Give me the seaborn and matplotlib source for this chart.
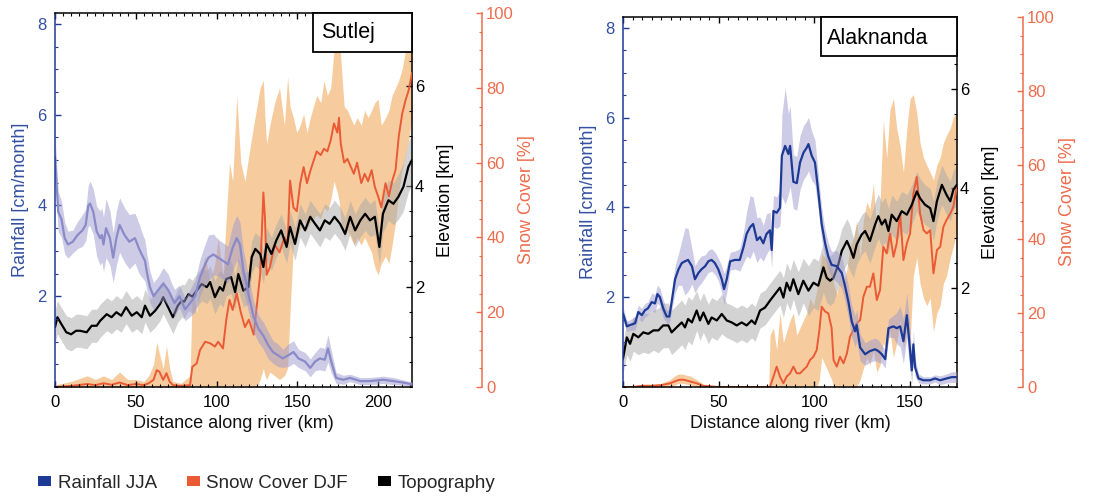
import numpy as np
import matplotlib
matplotlib.use("Agg")
import matplotlib.pyplot as plt
import seaborn as sns
from matplotlib.patches import Patch, Rectangle
from matplotlib.ticker import MultipleLocator

# ---------------- Sutlej (left panel) ----------------
sut_rain_km = [0, 2, 4, 6, 8, 11, 14, 17, 19, 20.6, 21.7, 23.7, 25.8, 27.9, 29, 30, 31.6, 34, 36, 38,
               40, 43, 46, 49.5, 52, 53.7, 55.7, 57, 58.8, 61, 64, 67, 70, 72, 74, 77, 80.5, 83.6, 86.7, 89.8,
               92.9, 95, 98, 101, 104, 107, 110, 112.5, 114.5, 116.6, 119.7, 122.8, 126, 129, 132, 135, 138, 141, 144.5, 147.6,
               150.7, 154.8, 158, 161, 164, 167, 169, 171, 174, 178.5, 182.7, 189, 195, 203, 209.5, 215, 221]
sut_rain = [5.07, 3.86, 3.7, 3.28, 3.14, 3.2, 3.35, 3.45, 3.57, 4.0, 4.04, 3.86, 3.43, 3.28, 3.35, 3.14, 3.5, 3.28, 2.85, 3.28,
            3.57, 3.35, 3.2, 3.28, 3.05, 2.92, 2.78, 2.5, 2.2, 2.0, 2.14, 2.28, 2.14, 2.0, 1.85, 2.0, 1.71, 1.85, 2.0, 2.42,
            2.7, 2.85, 2.92, 2.85, 2.78, 2.7, 3.07, 3.28, 3.14, 2.57, 2.06, 1.56, 1.28, 1.13, 0.92, 0.77, 0.70, 0.63, 0.70, 0.77,
            0.63, 0.56, 0.42, 0.56, 0.63, 0.6, 0.85, 0.56, 0.2, 0.16, 0.2, 0.13, 0.13, 0.16, 0.13, 0.1, 0.06]
sut_rain_spread = [0.5, 0.45, 0.4, 0.35, 0.3, 0.25, 0.3, 0.35, 0.35, 0.45, 0.5, 0.5, 0.55, 0.6, 0.6, 0.6, 0.65, 0.6, 0.55, 0.6,
                   0.6, 0.6, 0.6, 0.55, 0.55, 0.5, 0.45, 0.4, 0.35, 0.3, 0.3, 0.35, 0.35, 0.3, 0.3, 0.25, 0.25, 0.3, 0.35, 0.4,
                   0.45, 0.5, 0.45, 0.4, 0.4, 0.4, 0.5, 0.5, 0.5, 0.45, 0.4, 0.35, 0.3, 0.3, 0.3, 0.25, 0.25, 0.2, 0.25, 0.25,
                   0.2, 0.2, 0.2, 0.2, 0.25, 0.25, 0.3, 0.25, 0.12, 0.1, 0.08, 0.08, 0.08, 0.08, 0.08, 0.06, 0.05]

sut_topo_km = [0, 1.5, 4, 7, 10, 13, 15.5, 19.6, 22.7, 25.8, 28, 32, 35, 38, 41, 44, 47.5, 50.6, 53.7, 55.7,
               58.8, 62, 65, 67, 70, 73, 76, 78.4, 80, 82.6, 85, 87.7, 90.8, 94, 96, 99, 102, 104, 106, 109,
               111.5, 113.5, 116.6, 119.7, 121.8, 124, 127, 129, 131, 134, 137, 140, 143.4, 145.5, 148.6, 151.7, 154.8, 158, 161, 164,
               167, 170, 173, 176.5, 179.6, 182.7, 185.8, 189, 192, 195, 198, 200.8, 203, 206.4, 209.5, 212.6, 215.7, 218.8, 221]
sut_topo = [1.19, 1.39, 1.25, 1.09, 1.05, 1.12, 1.12, 1.09, 1.22, 1.22, 1.32, 1.45, 1.39, 1.49, 1.42, 1.59, 1.42, 1.49, 1.39, 1.62,
            1.42, 1.52, 1.65, 1.79, 1.59, 1.39, 1.62, 1.72, 1.70, 1.85, 1.80, 1.92, 2.05, 1.99, 2.09, 1.79, 1.99, 1.92, 2.15, 2.19,
            1.89, 2.25, 1.92, 1.99, 2.59, 2.75, 2.65, 2.39, 2.85, 2.65, 2.92, 3.12, 2.79, 3.19, 2.85, 3.32, 3.12, 3.39, 3.25, 3.12,
            3.32, 3.25, 3.39, 3.25, 3.05, 3.39, 3.12, 3.32, 3.45, 3.32, 3.39, 2.79, 3.45, 3.72, 3.65, 3.79, 3.99, 4.39, 4.52]
sut_topo_spread = [0.33] * 70 + [0.35, 0.35, 0.38, 0.4, 0.42, 0.45, 0.48, 0.5, 0.5]

sut_snow_km = [0, 10, 20, 25, 30, 35, 40, 45, 50, 55, 58, 61, 63, 64.6, 67, 69, 71, 73, 78, 83.6,
               85, 87.7, 89.8, 93, 96, 99, 101, 104, 106, 108, 110, 112.5, 115, 117.6, 120, 123, 125, 127, 129, 130,
               131, 133, 136, 139, 142, 144, 145.5, 147.6, 149.7, 151.8, 153.9, 156, 158, 162, 164.5, 166.5, 168.6, 170.7, 172.7, 174.8,
               175.8, 176.9, 179, 181, 183, 185, 187, 189.6, 191.7, 193.8, 196, 198, 200, 202, 204.6, 206.7, 208.7, 210.8, 212.8, 214.9,
               217, 219, 221]
sut_snow = [0, 0.3, 0.8, 0.5, 1.0, 0.6, 1.2, 0.5, 0.8, 0.5, 1.0, 1.9, 4.5, 4.1, 1.9, 3.7, 1.4, 0.5, 0.3, 0.5,
            5.4, 6.3, 9.9, 12.1, 11.7, 10.8, 12.1, 10.3, 17.9, 23.3, 20.6, 25.0, 20, 16, 18, 14, 22, 30, 52, 45,
            30, 32, 38, 36, 40, 38.5, 55.2, 48, 47, 54.5, 58.8, 54.5, 57.7, 63, 62, 63.7, 63, 66, 70.5, 68,
            72, 65, 60, 61, 59, 57, 60, 54.5, 57, 55, 58, 53.5, 51, 48, 54.5, 51, 55, 58, 67, 73,
            76.7, 79.4, 84]
sut_snow_lo = [0] * 37 + [2, 5, 3,
               2, 4, 3, 2, 3, 5, 20, 38, 40, 42, 45, 42, 44, 46, 45, 48, 47, 50, 55, 52,
               50, 45, 40, 42, 40, 38, 40, 38, 40, 38, 36, 32, 30, 33, 35, 33, 38, 44, 52, 58,
               62, 66, 72]
sut_snow_hi = [0.5, 1.5, 3, 2, 3, 2, 4, 2, 2, 1.5, 3, 6, 12, 9, 5, 11, 5, 1.5, 1, 3,
               26, 20, 30, 35, 28, 33, 40, 30, 45, 60, 55, 78, 60, 55, 62, 70, 75, 80, 82, 72,
               65, 70, 76, 80, 70, 83, 75, 72, 68, 70, 73, 68, 72, 78, 76, 82, 78, 80, 90, 100,
               100, 88, 75, 74, 72, 70, 72, 70, 74, 72, 74, 76, 77, 70, 72, 74, 78, 80, 82, 85,
               90, 92, 95]

# ---------------- Alaknanda (right panel) ----------------
ala_rain_km = [0, 2, 3.7, 6.3, 8, 9.8, 11.5, 13, 15, 16.7, 18, 19.3, 21, 22.8, 24.2, 25.4, 27.2, 29, 30.7, 32.4,
               34, 36, 37.6, 39.4, 41, 42.9, 44.6, 46.3, 48, 49.8, 51.6, 52.8, 54.2, 56, 58.5, 61, 63, 64.6, 66.4, 68,
               70, 71.6, 73.3, 75, 76.8, 77.7, 78.6, 80.3, 82, 83, 84.7, 86.4, 87.3, 89, 90.8, 92.5, 94.3, 96, 96.9, 98.6,
               100.3, 102, 103.8, 105.6, 107.3, 109, 111.7, 114.3, 116, 117.8, 119.5, 121.3, 122.1, 123.9, 126.5, 129, 131.7, 133.4, 135.2, 137,
               138.7, 141.3, 143, 144.8, 146.5, 148.3, 149.7, 150.9, 151.7, 152.6, 154.4, 157, 160.5, 163, 165.7, 169, 171.8, 174.4]
ala_rain = [1.64, 1.35, 1.38, 1.42, 1.67, 1.6, 1.71, 1.75, 1.89, 1.86, 2.07, 2.0, 1.75, 1.57, 1.57, 1.89, 2.4, 2.62, 2.76, 2.8,
            2.83, 2.69, 2.4, 2.54, 2.62, 2.69, 2.8, 2.83, 2.76, 2.62, 2.4, 2.18, 2.4, 2.8, 2.83, 2.83, 3.12, 3.41, 3.56, 3.63,
            3.27, 3.34, 3.2, 3.41, 3.49, 3.05, 3.92, 3.88, 3.99, 5.15, 5.37, 5.19, 5.37, 4.57, 4.54, 5.0, 5.22, 5.33, 5.41, 5.15,
            5.0, 4.36, 3.63, 3.2, 2.9, 2.72, 2.69, 2.54, 2.25, 1.89, 1.46, 1.24, 1.38, 0.88, 0.73, 0.8, 0.84, 0.8, 0.73, 0.62,
            1.31, 1.35, 1.31, 1.35, 1.02, 1.6, 0.95, 0.37, 0.95, 0.44, 0.19, 0.15, 0.15, 0.19, 0.15, 0.19, 0.22, 0.22]
ala_rain_spread = [0.15, 0.12, 0.12, 0.15, 0.15, 0.15, 0.15, 0.15, 0.2, 0.2, 0.2, 0.2, 0.2, 0.15, 0.15, 0.2, 0.3, 0.35, 0.5, 0.75,
                   0.7, 0.4, 0.3, 0.3, 0.3, 0.25, 0.25, 0.25, 0.25, 0.25, 0.3, 0.35, 0.3, 0.2, 0.2, 0.25, 0.35, 0.5, 0.7, 0.6,
                   0.5, 0.45, 0.4, 0.45, 0.4, 0.4, 0.35, 0.35, 0.4, 0.9, 1.3, 0.9, 0.9, 0.6, 0.6, 0.6, 0.6, 0.6, 0.6, 0.55,
                   0.5, 0.4, 0.35, 0.3, 0.3, 0.3, 0.35, 0.35, 0.35, 0.35, 0.35, 0.35, 0.35, 0.3, 0.25, 0.25, 0.25, 0.25, 0.2, 0.2,
                   0.2, 0.25, 0.35, 0.45, 0.5, 0.5, 0.5, 0.3, 0.3, 0.2, 0.1, 0.08, 0.08, 0.08, 0.1, 0.1, 0.12, 0.12]

ala_topo_km = [0, 2, 3.7, 5.4, 8, 10.6, 13.2, 15.9, 18.5, 21, 23.7, 25.4, 28, 30.7, 32.4, 34, 36, 38.5, 40.2, 42,
               44.6, 46.3, 49, 51.6, 54.2, 56.8, 59.4, 62, 64.6, 67.2, 69, 71.6, 74.2, 76.8, 79.4, 82, 83.8, 85.5, 87.3, 89,
               91.6, 94.2, 96.9, 99.5, 102, 104.7, 106.4, 108.2, 110, 112.5, 114.3, 117, 118.6, 120.4, 122.1, 124.7, 126.5, 129, 131.7, 133.4,
               135.2, 137, 138.7, 140.4, 143, 145.6, 148.3, 150.9, 153.5, 155.2, 157.8, 160.5, 162.2, 164, 166.6, 169, 171, 172.6, 174.4]
ala_topo = [0.57, 1.0, 0.87, 1.07, 1.0, 1.1, 1.07, 1.14, 1.14, 1.24, 1.24, 1.1, 1.2, 1.3, 1.2, 1.37, 1.3, 1.54, 1.34, 1.5,
            1.27, 1.4, 1.34, 1.47, 1.34, 1.3, 1.24, 1.3, 1.24, 1.34, 1.27, 1.54, 1.6, 1.74, 1.87, 2.0, 1.8, 2.1, 1.94, 2.17,
            1.87, 2.14, 1.94, 2.1, 2.04, 2.41, 2.2, 2.14, 2.2, 2.47, 2.74, 2.94, 2.8, 2.6, 2.87, 3.07, 3.14, 2.94, 3.27, 3.44,
            3.27, 3.37, 3.14, 3.47, 3.34, 3.54, 3.47, 3.67, 3.94, 3.8, 3.67, 3.6, 3.34, 3.74, 4.07, 3.87, 3.74, 3.97, 4.07]
ala_topo_spread = [0.3, 0.35, 0.35, 0.35, 0.35, 0.4, 0.4, 0.4, 0.45, 0.45, 0.45, 0.45, 0.45, 0.45, 0.45, 0.45, 0.45, 0.4, 0.4, 0.4,
                   0.4, 0.4, 0.4, 0.4, 0.35, 0.35, 0.35, 0.35, 0.35, 0.35, 0.35, 0.35, 0.35, 0.35, 0.35, 0.35, 0.4, 0.4, 0.4, 0.4,
                   0.45, 0.45, 0.5, 0.5, 0.5, 0.5, 0.5, 0.5, 0.5, 0.45, 0.45, 0.45, 0.45, 0.4, 0.4, 0.4, 0.4, 0.45, 0.45, 0.45,
                   0.45, 0.45, 0.45, 0.4, 0.4, 0.4, 0.4, 0.4, 0.4, 0.4, 0.4, 0.4, 0.4, 0.4, 0.4, 0.4, 0.4, 0.4, 0.4]

ala_snow_km = [0, 5, 10, 15, 20, 24.6, 27, 29, 31, 33, 35, 38.5, 42, 50, 60, 70, 76.2, 76.8, 78.6, 80.3, 82,
               83.8, 85.5, 87.3, 89, 90.8, 92.5, 94.2, 96, 97.7, 99.5, 101.2, 102.6, 103.8, 105.6, 107.3, 109, 110, 111.7, 113.4, 115.2,
               117, 118.6, 120.4, 122.1, 123.9, 125.6, 127.4, 129, 130.8, 132.6, 134.3, 136, 137.8, 139.5, 141.3, 143, 144.8, 146.5, 148.3, 150,
               151.7, 153.5, 155.2, 157, 158.7, 160.5, 162.2, 164, 165.7, 167.4, 169, 171, 172.6, 174.4]
ala_snow = [0, 0, 0.3, 0.3, 0.5, 1.0, 1.5, 1.9, 2.0, 1.8, 1.5, 1.0, 0.3, 0, 0, 0, 0, 0, 2.8, 5.5, 2.8,
            1.0, 2.8, 3.7, 5.5, 3.7, 3.7, 4.6, 5.5, 7.3, 8.2, 10, 15.4, 21.7, 20.4, 19.9, 15.9, 7.3, 5.5, 8.2, 6.4,
            9.1, 13.6, 15.4, 17.2, 18.1, 24.4, 27.1, 27.1, 30.7, 23.5, 26.2, 37.9, 36.1, 41.5, 35.2, 38.8, 46.9, 34.3, 38.8, 41.5,
            52.3, 56.8, 46.9, 42.4, 41.5, 42.4, 30.7, 37, 37.9, 43.3, 45.1, 46.9, 48.7, 54.1]
ala_snow_lo = [0, 0, 0, 0, 0, 0, 0.5, 1.0, 1.0, 0.8, 0.5, 0.3, 0, 0, 0, 0, 0, 0, 0, 0, 0,
               0, 0, 0, 0, 0, 0, 0, 0, 0, 0, 0, 2, 8, 6, 4, 2, 0, 0, 0, 0,
               0, 0, 0, 0, 2, 5, 8, 6, 10, 4, 6, 12, 10, 15, 8, 12, 18, 10, 15, 12,
               30, 35, 28, 24, 22, 24, 15, 20, 22, 28, 30, 35, 38, 42]
ala_snow_hi = [0, 0.3, 0.8, 0.8, 1.0, 2.0, 3.0, 3.5, 3.5, 3.2, 3.0, 2.0, 0.8, 0.2, 0.2, 0.2, 0.2, 14, 16, 10, 20,
               12, 15, 18, 20, 14, 16, 18, 20, 24, 22, 26, 30, 36, 35, 34, 33, 28, 25, 30, 28,
               32, 38, 40, 45, 35, 45, 50, 48, 55, 42, 50, 72, 62, 75, 78, 70, 65, 58, 70, 78,
               79, 74, 66, 62, 60, 58, 56, 60, 62, 66, 68, 70, 73, 74]

legend_labels = ["Rainfall JJA", "Snow Cover DJF", "Topography"]
panel_names = ["Sutlej", "Alaknanda"]

# ---------------- style ----------------
sns.set_theme(style="white")
plt.rcParams["font.family"] = ["Liberation Sans", "DejaVu Sans"]

RAIN_DARK = "#1d3a94"
RAIN_LIGHT = "#8a8ac8"
RAIN_BAND = "#9d99cf"
SNOW_LINE = "#ea5a35"
SNOW_BAND = "#efa24e"
TOPO_BAND = "#a8a8a8"
RAIN_TICK = "#3350a2"
SNOW_TICK = "#ee6c4c"

RAIN_LIM = (0, 8.24)
ELEV_LIM = (0, 7.45)
SNOW_LIM = (0, 100)

fig = plt.figure(figsize=(11.1, 5.0), dpi=100, facecolor="white")


def layer(host, z, ylim, hidden=True):
    a = host.twinx()
    a.set_zorder(z)
    a.set_ylim(*ylim)
    a.patch.set_visible(False)
    a.grid(False)
    if hidden:
        a.set_axis_off()
    return a


def build_panel(rect, xmax, rain_km, rain, rain_sp, topo_km, topo, topo_sp,
                snow_km, snow, snow_lo, snow_hi, name, box, text_xy, rain_color, snow_off):
    ax = fig.add_axes(rect)          # rainfall (top data layer)
    ax.patch.set_visible(False)
    ax.grid(False)
    ax.set_zorder(5)
    ax_sband = layer(ax, 1, SNOW_LIM, hidden=False)   # snow axis, band
    ax_eband = layer(ax, 2, ELEV_LIM, hidden=False)   # elevation axis, band
    ax_sline = layer(ax, 3, SNOW_LIM)
    ax_eline = layer(ax, 4, ELEV_LIM)
    ax_box = layer(ax, 6, (0, 1))

    sk = np.array(snow_km)
    ax_sband.fill_between(sk, snow_lo, snow_hi, color=SNOW_BAND, alpha=0.55, lw=0)
    sns.lineplot(x=sk, y=np.array(snow), ax=ax_sline, color=SNOW_LINE, lw=1.4, sort=False, legend=False)

    tk = np.array(topo_km); tv = np.array(topo); ts = np.array(topo_sp)
    ax_eband.fill_between(tk, tv - ts, tv + ts, color=TOPO_BAND, alpha=0.5, lw=0)
    sns.lineplot(x=tk, y=tv, ax=ax_eline, color="black", lw=1.6, sort=False, legend=False)

    rk = np.array(rain_km); rv = np.array(rain); rs = np.array(rain_sp)
    ax.fill_between(rk, np.clip(rv - rs, 0, None), rv + rs, color=RAIN_BAND, alpha=0.5, lw=0)
    sns.lineplot(x=rk, y=rv, ax=ax, color=rain_color, lw=1.6, sort=False, legend=False)

    ax.set_xticks([t for t in [0, 50, 100, 150, 200] if t <= xmax])
    ax.xaxis.set_minor_locator(MultipleLocator(5))
    ax.set_xlim(0, xmax)
    ax.set_ylim(*RAIN_LIM)
    for a in (ax_sband, ax_eband, ax_sline, ax_eline):
        a.set_xlim(0, xmax)
    ax_sband.set_ylim(*SNOW_LIM); ax_sline.set_ylim(*SNOW_LIM)
    ax_eband.set_ylim(*ELEV_LIM); ax_eline.set_ylim(*ELEV_LIM)

    # spines
    for a in (ax, ax_eband, ax_sband):
        for s in a.spines.values():
            s.set_visible(False)
            s.set_linewidth(1.1)
    ax.spines["left"].set_visible(True)
    ax.spines["left"].set_color(RAIN_DARK)
    for k in ("top", "bottom"):
        ax.spines[k].set_visible(True)
        ax.spines[k].set_color("black")
    ax_eband.spines["right"].set_visible(True)
    ax_eband.spines["right"].set_color("black")
    ax_sband.spines["right"].set_visible(True)
    ax_sband.spines["right"].set_color(SNOW_TICK)
    ax_sband.spines["right"].set_position(("outward", snow_off))

    # ticks
    ax.set_yticks([2, 4, 6, 8])
    ax.yaxis.set_minor_locator(MultipleLocator(0.5))
    ax.tick_params(axis="x", which="both", direction="in", top=True, bottom=True,
                   labelsize=12, pad=6, colors="black", labelcolor="black")
    ax.tick_params(axis="x", which="major", length=4, width=1)
    ax.tick_params(axis="x", which="minor", length=2, width=0.8)
    ax.tick_params(axis="y", which="both", direction="in", left=True, right=False,
                   labelsize=12, pad=6, color=RAIN_DARK, labelcolor=RAIN_TICK)
    ax.tick_params(axis="y", which="major", length=4, width=1)
    ax.tick_params(axis="y", which="minor", length=2, width=0.8)

    ax_eband.set_yticks([2, 4, 6])
    ax_eband.yaxis.set_minor_locator(MultipleLocator(0.5))
    ax_eband.tick_params(axis="y", which="both", direction="in", labelsize=12, pad=2,
                         color="black", labelcolor="black")
    ax_eband.tick_params(axis="y", which="major", length=4, width=1)
    ax_eband.tick_params(axis="y", which="minor", length=2, width=0.8)

    ax_sband.set_yticks([0, 20, 40, 60, 80, 100])
    ax_sband.yaxis.set_minor_locator(MultipleLocator(5))
    ax_sband.tick_params(axis="y", which="both", direction="in", labelsize=12, pad=3,
                         color=SNOW_TICK, labelcolor=SNOW_TICK)
    ax_sband.tick_params(axis="y", which="major", length=4, width=1)
    ax_sband.tick_params(axis="y", which="minor", length=2, width=0.8)

    ax.set_xlabel("Distance along river (km)", fontsize=13, labelpad=3, color="#111111")
    ax.set_ylabel("Rainfall [cm/month]", fontsize=13, labelpad=6, color=RAIN_TICK)
    ax_eband.set_ylabel("Elevation [km]", fontsize=13, labelpad=9, color="black")
    ax_sband.set_ylabel("Snow Cover [%]", fontsize=13, labelpad=3, color=SNOW_TICK)

    # name box
    bx, by, bw, bh = box
    ax_box.add_patch(Rectangle((bx, by), bw, bh, transform=ax_box.transAxes, facecolor="white",
                               edgecolor="black", lw=1.3, zorder=20, clip_on=False))
    ax_box.text(text_xy[0], text_xy[1], name, transform=ax_box.transAxes, fontsize=15.5,
                ha="left", va="center", color="black", zorder=21)
    return ax


build_panel([55 / 1110, 113 / 500, 357 / 1110, 374 / 500], 221,
            sut_rain_km, sut_rain, sut_rain_spread, sut_topo_km, sut_topo, sut_topo_spread,
            sut_snow_km, sut_snow, sut_snow_lo, sut_snow_hi, panel_names[0],
            (0.723, 0.896, 0.277, 0.104), (0.745, 0.947), RAIN_LIGHT, 50.4)

build_panel([623 / 1110, 113 / 500, 334 / 1110, 370 / 500], 174.5,
            ala_rain_km, ala_rain, ala_rain_spread, ala_topo_km, ala_topo, ala_topo_spread,
            ala_snow_km, ala_snow, ala_snow_lo, ala_snow_hi, panel_names[1],
            (0.593, 0.895, 0.407, 0.105), (0.611, 0.943), RAIN_DARK, 47.5)

handles = [Patch(facecolor=RAIN_DARK, edgecolor="none"),
           Patch(facecolor=SNOW_LINE, edgecolor="none"),
           Patch(facecolor="black", edgecolor="none")]
fig.legend(handles, legend_labels, loc="center left", bbox_to_anchor=(38 / 1110, 0.034),
           ncol=3, frameon=False, borderpad=0, borderaxespad=0,
           handlelength=0.7, handleheight=0.4, handletextpad=0.35, columnspacing=1.6,
           prop={"family": "Liberation Sans", "size": 13.5})

fig.savefig("out.png", dpi=100, facecolor="white")
